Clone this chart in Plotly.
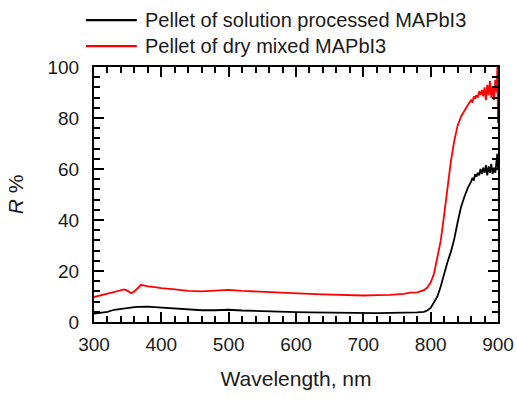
import plotly.graph_objects as go

wavelength = [300, 310, 320, 330, 340, 345, 350, 355, 360, 365, 370, 375, 380, 390, 400,
              420, 440, 460, 480, 500, 520, 540, 560, 580, 600, 620, 640, 660, 680, 700,
              720, 740, 760, 770, 780, 790, 795, 800, 805, 810, 815, 820, 825, 830, 835,
              840, 845, 850, 855, 860, 862, 864, 866, 868, 870, 872, 874, 876, 878, 880,
              882, 884, 886, 888, 890, 892, 894, 896, 898, 899, 900]

r_solution = [3.3, 3.6, 4.0, 4.8, 5.2, 5.4, 5.6, 5.7, 5.8, 5.9, 6.0, 6.0, 6.0, 5.8, 5.6,
              5.2, 4.8, 4.6, 4.6, 4.8, 4.5, 4.3, 4.1, 4.0, 3.9, 3.8, 3.7, 3.6, 3.6, 3.5,
              3.5, 3.6, 3.6, 3.7, 3.8, 4.0, 4.5, 5.5, 7.5, 10.0, 14.0, 19.0, 23.5, 27.5, 32.5,
              39.0, 45.0, 49.0, 52.5, 55.0, 56.5, 55.5, 58.0, 57.0, 58.5, 57.5, 60.0, 58.0, 60.5, 58.5,
              61.5, 57.5, 61.0, 58.5, 62.0, 58.0, 60.5, 58.5, 62.5, 66.0, 60.0]

r_dry = [9.8, 10.5, 11.2, 11.8, 12.5, 12.8, 12.2, 11.3, 12.0, 13.5, 14.6, 14.3, 14.0, 13.7, 13.3,
         12.8, 12.2, 12.0, 12.2, 12.6, 12.2, 11.9, 11.6, 11.4, 11.2, 11.0, 10.8, 10.6, 10.5, 10.4,
         10.5, 10.6, 11.0, 11.5, 11.6, 12.5, 13.5, 15.5, 19.0, 25.0, 32.0, 42.0, 53.0, 63.0, 71.0,
         77.0, 80.5, 83.0, 85.0, 87.0, 86.0, 88.5, 87.5, 89.0, 88.0, 90.5, 89.0, 91.0, 88.5, 92.0,
         87.0, 93.0, 89.0, 94.5, 88.0, 92.5, 87.0, 95.0, 90.0, 100.0, 78.0]

series_names = ["Pellet of solution processed MAPbI3", "Pellet of dry mixed MAPbI3"]
series_colors = ["black", "#ff0000"]

X_RANGE = [300, 900]
Y_RANGE = [0, 100]

FONT = "Liberation Sans, Arial, sans-serif"
TXT = "#1a1a1a"

fig = go.Figure()
# placeholder on the labelled axes
fig.add_trace(go.Scatter(x=[None], y=[None], showlegend=False, hoverinfo="skip"))
# each series sits on its own tick-only axis pair (bottom/left and top/right),
# all sharing identical ranges so the curves line up
for ys, name, col, xa, ya in zip([r_solution, r_dry], series_names, series_colors,
                                 ["x2", "x3"], ["y2", "y3"]):
    fig.add_trace(go.Scatter(x=wavelength, y=ys, mode="lines", xaxis=xa, yaxis=ya,
                             line=dict(color=col, width=1.8), name=name,
                             showlegend=False))

line_style = dict(showline=True, linecolor="black", linewidth=2,
                  showgrid=False, zeroline=False, automargin=False)
inside_ticks = dict(ticks="inside", ticklen=10, tickwidth=2, tickcolor="black",
                    showticklabels=False, **line_style)
x_minor = dict(dtick=20, ticks="inside", ticklen=6, tickwidth=2, tickcolor="black")
y_minor = dict(dtick=4, ticks="inside", ticklen=6, tickwidth=2, tickcolor="black")
x_ticks = dict(range=X_RANGE, dtick=100, tick0=300)
y_ticks = dict(range=Y_RANGE, dtick=20, tick0=0)

fig.update_layout(
    width=517, height=408,
    margin=dict(l=94, r=19, t=67, b=86),
    paper_bgcolor="white", plot_bgcolor="white",
    font=dict(family=FONT, size=19, color=TXT),
    # labelled axes: invisible outside ticks only set the label gap
    xaxis=dict(**x_ticks, ticks="outside", ticklen=4, tickcolor="rgba(0,0,0,0)",
               tickfont=dict(family=FONT, size=19, color=TXT),
               title=dict(text="Wavelength, nm", font=dict(family=FONT, size=21, color=TXT),
                          standoff=18),
               **line_style),
    yaxis=dict(**y_ticks, ticks="outside", ticklen=9, tickcolor="rgba(0,0,0,0)",
               tickfont=dict(family=FONT, size=19, color=TXT),
               title=dict(text="<i>R</i> %", font=dict(family=FONT, size=21, color=TXT),
                          standoff=18),
               **line_style),
    # inward major/minor ticks on all four sides
    xaxis2=dict(**x_ticks, minor=x_minor, overlaying="x", side="bottom", **inside_ticks),
    yaxis2=dict(**y_ticks, minor=y_minor, overlaying="y", side="left", **inside_ticks),
    xaxis3=dict(**x_ticks, minor=x_minor, overlaying="x", side="top", **inside_ticks),
    yaxis3=dict(**y_ticks, minor=y_minor, overlaying="y", side="right", **inside_ticks),
)

# legend drawn above the frame: short line sample followed by the series name
leg_y = [1.184, 1.082]
for name, col, yy in zip(series_names, series_colors, leg_y):
    fig.add_shape(type="line", xref="paper", yref="paper",
                  x0=-0.02, x1=0.106, y0=yy, y1=yy,
                  line=dict(color=col, width=2.2))
    fig.add_annotation(text=name, xref="paper", yref="paper", x=0.121, y=yy,
                       xanchor="left", yanchor="middle", showarrow=False,
                       font=dict(family=FONT, size=20, color=TXT))

fig.write_html("out.html")
